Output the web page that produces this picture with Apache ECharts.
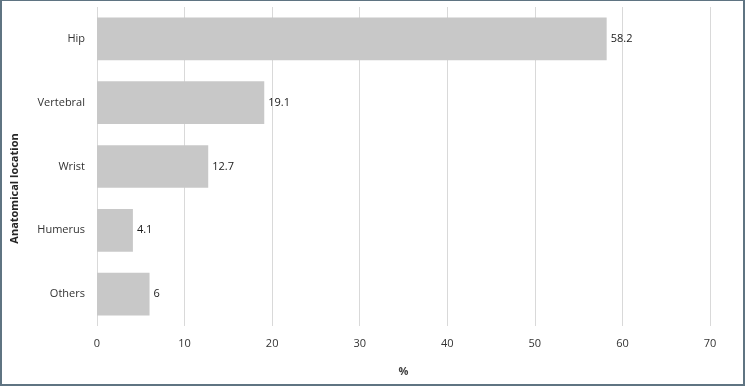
<!DOCTYPE html>
<html><head><meta charset="utf-8">
<script src="https://cdn.jsdelivr.net/npm/echarts@6/dist/echarts.min.js"></script>
<style>
html,body{margin:0;padding:0;background:#fff;}
#wrap{width:745px;height:386px;box-sizing:border-box;border-style:solid;border-color:#5f7482;border-width:1px 2px 2px 2px;}
#c{width:741px;height:383px;}
</style></head><body>
<div id="wrap"><div id="c"></div></div>
<script>
const categories = ["Hip", "Vertebral", "Wrist", "Humerus", "Others"];
const values = [58.2, 19.1, 12.7, 4.1, 6];
const xTicks = [0, 10, 20, 30, 40, 50, 60, 70];

const font = "'Open Sans', 'Liberation Sans', sans-serif";
const chart = echarts.init(document.getElementById('c'));
chart.setOption({
  animation: false,
  grid: {left: 95, top: 6, width: 613, height: 319, containLabel: false, outerBoundsMode: 'none'},
  xAxis: {
    type: 'value', min: xTicks[0], max: xTicks[xTicks.length-1], interval: 10,
    name: '%', nameLocation: 'middle', nameGap: 40,
    nameTextStyle: {fontFamily: font, fontSize: 11, fontWeight: 'bold', color: '#404040'},
    axisLine: {show: false}, axisTick: {show: false},
    axisLabel: {fontFamily: font, fontSize: 11, color: '#333', margin: 12},
    splitLine: {show: true, lineStyle: {color: '#d9d9d9', width: 1}}
  },
  yAxis: {
    type: 'category', data: categories, inverse: true,
    name: 'Anatomical location', nameLocation: 'middle', nameGap: 77, nameRotate: 90,
    nameTextStyle: {fontFamily: font, fontSize: 11, fontWeight: 'bold', color: '#262626', padding: [0, 44, 0, 0]},
    axisLine: {show: false}, axisTick: {show: false},
    axisLabel: {fontFamily: font, fontSize: 11, color: '#333', margin: 12}
  },
  series: [{
    type: 'bar', data: values, barCategoryGap: '33%',
    itemStyle: {color: '#c8c8c8'},
    label: {show: true, position: 'right', distance: 4, fontFamily: font, fontSize: 11, color: '#1a1a1a'}
  }]
});
</script></body></html>
